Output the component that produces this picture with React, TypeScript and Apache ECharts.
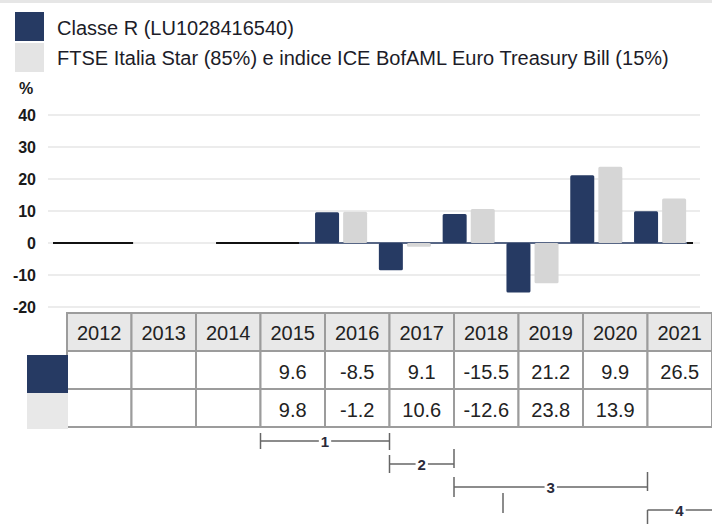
import React, { useEffect, useRef } from 'react';
import * as echarts from 'echarts';

// ---- data ----
const tableYears = ['2012', '2013', '2014', '2015', '2016', '2017', '2018', '2019', '2020', '2021'];
const chartYears = ['2011', '2012', '2013', '2014', '2015', '2016', '2017', '2018', '2019', '2020'];
const fundReturns: (number | null)[] = [null, null, null, 9.6, -8.5, 9.1, -15.5, 21.2, 9.9, 26.5];
const benchReturns: (number | null)[] = [null, null, null, 9.8, -1.2, 10.6, -12.6, 23.8, 13.9, null];
const yMin = -20;
const yMax = 40;
const yInterval = 10;
const fundName = 'Classe R (LU1028416540)';
const benchName = 'FTSE Italia Star (85%) e indice ICE BofAML Euro Treasury Bill (15%)';
const periodLabels = ['1', '2', '3', '4'];
// period spans as table column boundaries (start col index, end col index)
const periodStart = [3, 5, 6, 9];
const periodEnd = [5, 6, 9, 11];
// zero baseline segments (in category units)
const zeroBlack: [number, number][] = [[-0.58, 0.74], [2.04, 3.34], [9.42, 9.61]];
const zeroBlue: [number, number][] = [[3.34, 9.42]];

const DARK = '#263a63';
const LIGHT = '#d6d6d6';
const FONT = '"Liberation Sans", Arial, sans-serif';

function valueFor(arr: (number | null)[], year: string) {
  const i = tableYears.indexOf(year);
  return i < 0 ? null : arr[i];
}

export default function App() {
  const ref = useRef<HTMLDivElement>(null);
  useEffect(() => {
    if (!ref.current) return;
    const chart = echarts.init(ref.current, undefined, { renderer: 'svg' });

    const graphics: any[] = [];
    // top border
    graphics.push({ type: 'rect', shape: { x: 0, y: 0, width: 712, height: 3 }, style: { fill: '#e6e6e6' } });
    // legend
    graphics.push({ type: 'rect', shape: { x: 15, y: 12, width: 29, height: 29 }, style: { fill: DARK } });
    graphics.push({ type: 'rect', shape: { x: 15, y: 43, width: 29, height: 29 }, style: { fill: '#e4e4e4' } });
    graphics.push({ type: 'text', x: 57, y: 28, style: { text: fundName, font: `20px ${FONT}`, fill: '#1c1c28', verticalAlign: 'middle' } });
    graphics.push({ type: 'text', x: 57, y: 58, style: { text: benchName, font: `20px ${FONT}`, fill: '#1c1c28', verticalAlign: 'middle' } });
    // % sign
    graphics.push({ type: 'text', x: 26, y: 88, style: { text: '%', font: `bold 16px ${FONT}`, fill: '#1a1a1a', align: 'center', verticalAlign: 'middle' } });

    // table
    const tx = 67;
    const cw = 64.5;
    const rows = [313, 351, 389, 427];
    tableYears.forEach((yr, i) => {
      const x = tx + i * cw;
      graphics.push({ type: 'rect', shape: { x, y: rows[0], width: cw, height: rows[1] - rows[0] }, style: { fill: '#e8e8e8', stroke: '#9c9c9c', lineWidth: 2 } });
      graphics.push({ type: 'rect', shape: { x, y: rows[1], width: cw, height: rows[2] - rows[1] }, style: { fill: '#fff', stroke: '#9c9c9c', lineWidth: 2 } });
      graphics.push({ type: 'rect', shape: { x, y: rows[2], width: cw, height: rows[3] - rows[2] }, style: { fill: '#fff', stroke: '#9c9c9c', lineWidth: 2 } });
      graphics.push({ type: 'text', x: x + cw / 2, y: 333, style: { text: yr, font: `20px ${FONT}`, fill: '#222', align: 'center', verticalAlign: 'middle' } });
      const f = fundReturns[i];
      const b = benchReturns[i];
      if (f !== null) graphics.push({ type: 'text', x: x + cw / 2, y: 372, style: { text: f.toFixed(1), font: `20px ${FONT}`, fill: '#222', align: 'center', verticalAlign: 'middle' } });
      if (b !== null) graphics.push({ type: 'text', x: x + cw / 2, y: 410, style: { text: b.toFixed(1), font: `20px ${FONT}`, fill: '#222', align: 'center', verticalAlign: 'middle' } });
    });
    // swatches
    graphics.push({ type: 'rect', shape: { x: 27, y: 355, width: 41, height: 38 }, style: { fill: DARK } });
    graphics.push({ type: 'rect', shape: { x: 27, y: 393, width: 41, height: 36 }, style: { fill: '#e8e8e8' } });

    // period brackets
    const bY = [441, 464, 487, 510];
    const lTick = [[433, 449], [455, 473], [477, 497], [510, 524]];
    const rTick = [[433, 450], [449, 468], [472, 491], null];
    periodLabels.forEach((lab, k) => {
      const x1 = tx + periodStart[k] * cw;
      const x2 = tx + periodEnd[k] * cw;
      const y = bY[k];
      graphics.push({ type: 'line', shape: { x1, y1: y, x2, y2: y }, style: { stroke: '#666', lineWidth: 1.5 } });
      graphics.push({ type: 'line', shape: { x1, y1: lTick[k][0], x2: x1, y2: lTick[k][1] }, style: { stroke: '#666', lineWidth: 1.5 } });
      const rt = rTick[k];
      if (rt) graphics.push({ type: 'line', shape: { x1: x2, y1: rt[0], x2: x2, y2: rt[1] }, style: { stroke: '#666', lineWidth: 1.5 } });
      const lx = k === 3 ? x1 + 32 : (x1 + x2) / 2;
      graphics.push({ type: 'text', x: lx, y, style: { text: lab, font: `bold 15px ${FONT}`, fill: '#2a2a3a', align: 'center', verticalAlign: 'middle', backgroundColor: '#fff', padding: [0, 2] } });
    });
    graphics.push({ type: 'line', shape: { x1: 503, y1: 493, x2: 503, y2: 513 }, style: { stroke: '#666', lineWidth: 1.5 } });

    const zeroSeries: any[] = [];
    zeroBlack.forEach((s) => zeroSeries.push({ type: 'line', xAxisIndex: 2, yAxisIndex: 1, data: [[s[0], 0], [s[1], 0]], symbol: 'none', clip: false, lineStyle: { color: '#111', width: 2 }, z: 1, silent: true }));
    zeroBlue.forEach((s) => zeroSeries.push({ type: 'line', xAxisIndex: 2, yAxisIndex: 1, data: [[s[0], 0], [s[1], 0]], symbol: 'none', clip: false, lineStyle: { color: DARK, width: 1.5 }, z: 1, silent: true }));

    chart.setOption({
      animation: false,
      backgroundColor: '#fff',
      grid: [
        { left: 48, width: 652, top: 115, height: 192 },
        { left: 54, width: 638, top: 115, height: 192 },
      ],
      xAxis: [
        { gridIndex: 0, type: 'value', min: 0, max: 1, show: false },
        { gridIndex: 1, type: 'category', data: chartYears, show: false },
        { gridIndex: 1, type: 'value', min: -0.5, max: 9.5, show: false },
      ],
      yAxis: [
        {
          gridIndex: 0, type: 'value', min: yMin, max: yMax, interval: yInterval,
          axisLine: { show: false }, axisTick: { show: false },
          splitLine: { lineStyle: { color: '#ececec', width: 2 } },
          axisLabel: { margin: 12, fontSize: 16, fontWeight: 'bold', color: '#1a1a1a', fontFamily: FONT },
        },
        { gridIndex: 1, type: 'value', min: yMin, max: yMax, show: false },
      ],
      series: [
        ...zeroSeries,
        {
          name: fundName, type: 'bar', xAxisIndex: 1, yAxisIndex: 1,
          data: chartYears.map((y) => valueFor(fundReturns, y)),
          barWidth: 24, barGap: '17%', itemStyle: { color: DARK, borderRadius: 1.5 }, z: 2,
        },
        {
          name: benchName, type: 'bar', xAxisIndex: 1, yAxisIndex: 1,
          data: chartYears.map((y) => valueFor(benchReturns, y)),
          barWidth: 24, barGap: '17%', itemStyle: { color: LIGHT, borderRadius: 1.5 }, z: 2,
        },
      ],
      graphic: graphics,
    });
    return () => chart.dispose();
  }, []);
  return <div ref={ref} style={{ position: 'fixed', left: 0, top: 0, width: 712, height: 524 }} />;
}
